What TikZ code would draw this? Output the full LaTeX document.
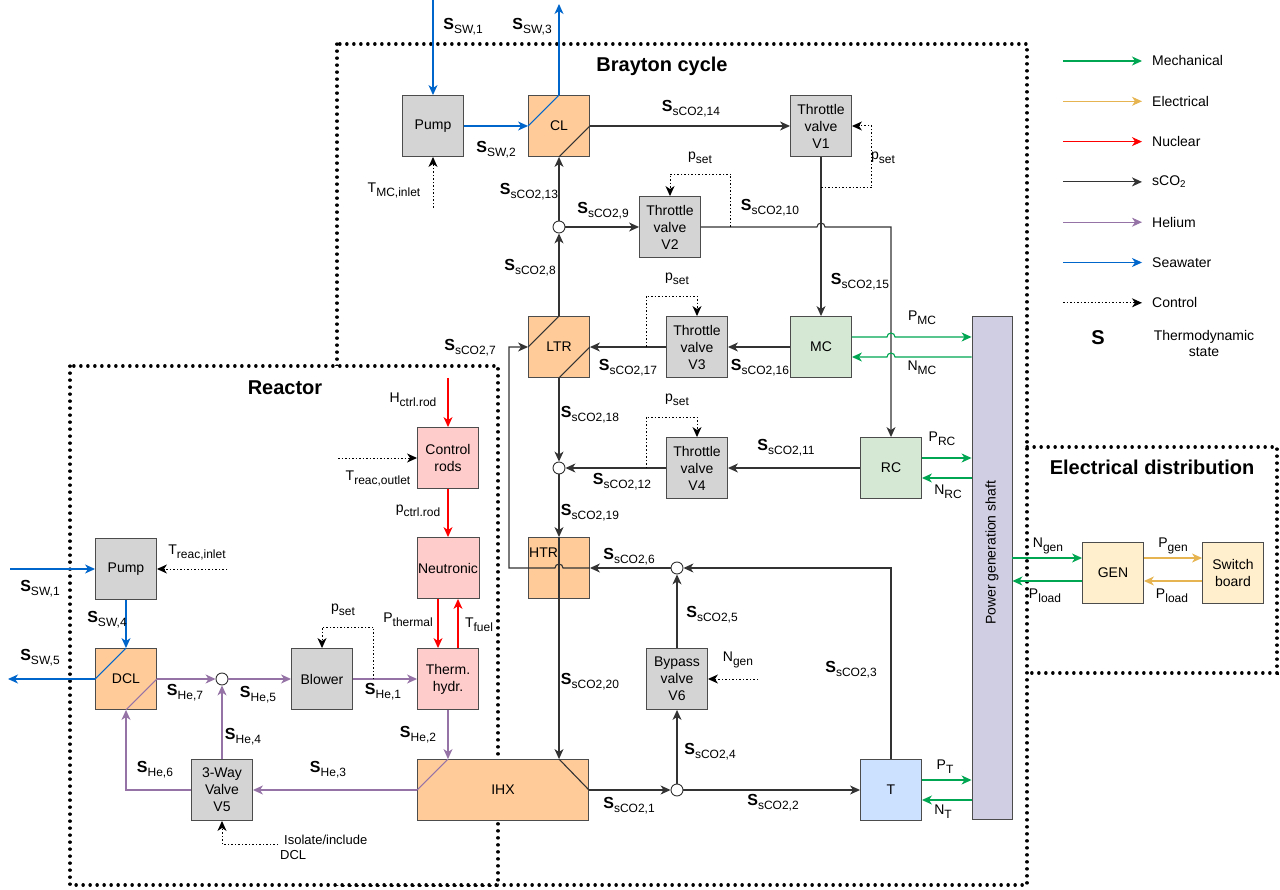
\documentclass[tikz,border=0pt]{standalone}
\usepackage{fontspec}
\setmainfont{Liberation Sans}
\usetikzlibrary{arrows.meta,positioning,calc}
\definecolor{swblue}{HTML}{0066CC}
\definecolor{hepurple}{HTML}{9673A6}
\definecolor{nucred}{HTML}{FF0000}
\definecolor{mechgreen}{HTML}{00A651}
\definecolor{elecgold}{HTML}{E6B450}
\definecolor{co2gray}{HTML}{333333}
\definecolor{boxgray}{HTML}{D4D4D4}
\definecolor{boxorange}{HTML}{FFCC99}
\definecolor{boxpink}{HTML}{FFCCCC}
\definecolor{boxgreen}{HTML}{D5E8D4}
\definecolor{boxblue}{HTML}{CCE0FF}
\definecolor{boxpurple}{HTML}{D0CEE2}
\definecolor{boxyellow}{HTML}{FFEFCC}
\newcommand{\boxfont}{\fontsize{14}{17}\selectfont}
\newcommand{\lblfont}{\fontsize{14}{16}\selectfont}
\newcommand{\ttlfont}{\fontsize{20}{24}\selectfont\bfseries}
\newcommand{\thst}[1]{{\fontsize{16}{16}\selectfont\bfseries S}\raisebox{-4pt}{\fontsize{12}{12}\selectfont #1}}
\newcommand{\vsub}[2]{#1\raisebox{-4pt}{\fontsize{12}{12}\selectfont #2}}

\begin{document}
\begin{tikzpicture}[x=1pt,y=-1pt,
  blk/.style={rectangle,draw=black!70,line width=0.9pt,minimum width=61pt,
              minimum height=61pt,inner sep=1pt,align=center,font=\boxfont},
  grayblk/.style={blk,fill=boxgray},
  heatx/.style={blk,fill=boxorange},
  nucblk/.style={blk,fill=boxpink},
  compblk/.style={blk,fill=boxgreen},
  elecblk/.style={blk,fill=boxyellow},
  junc/.style={circle,draw=co2gray,fill=white,line width=0.9pt,
               minimum size=12pt,inner sep=0pt},
  pipe/.style={line width=1.1pt,-{Stealth[length=10pt,width=9pt,inset=3pt]}},
  co2/.style={pipe,draw=co2gray},
  hel/.style={pipe,draw=hepurple},
  sea/.style={pipe,draw=swblue},
  nuc/.style={pipe,draw=nucred},
  mech/.style={pipe,draw=mechgreen},
  elec/.style={pipe,draw=elecgold},
  ctrl/.style={pipe,draw=black,line width=1pt,dash pattern=on 1.5pt off 2pt},
  lbl/.style={font=\lblfont,inner sep=1pt},
  ttl/.style={font=\ttlfont},
  region/.style={draw=black,line width=3.2pt,dash pattern=on 0.3pt off 6.7pt,line cap=round}
]
  \useasboundingbox (0,0) rectangle (1280,890);

  % ---- Subsystem borders ---------------------------------------
  \draw[region] (337,44) rectangle (1027,885);
  \draw[region,fill=white] (70,366) rectangle (498,885);
  \draw[region] (1027,447) -- (1277,447) -- (1277,673) -- (1027,673);

  \node[ttl] (brayton) at (662,66) {Brayton cycle};
  \node[ttl] (reactor) at (285,388) {Reactor};
  \node[ttl] (elecdist) at (1152,467) {Electrical distribution};

  % ---- Brayton cycle units -------------------------------------
  \node[grayblk] (pumpB) at (433,126) {Pump};
  \node[heatx]   (cl)    at (559,126) {CL};
  \node[grayblk] (tv1)   at (821,126) {Throttle\\valve\\V1};
  \node[grayblk] (tv2)   at (670,227) {Throttle\\valve\\V2};
  \node[heatx]   (ltr)   at (559,347) {LTR};
  \node[grayblk] (tv3)   at (697,347) {Throttle\\valve\\V3};
  \node[compblk] (mc)    at (821,347) {MC};
  \node[grayblk] (tv4)   at (697,468) {Throttle\\valve\\V4};
  \node[compblk] (rc)    at (891,468) {RC};
  \node[heatx]   (htr)   at (559,568) {};
  \node[font=\boxfont,anchor=west,inner sep=0pt] (htrtxt) at (529,553) {HTR};
  \node[grayblk] (bypass) at (677,679) {Bypass\\valve\\V6};
  \node[heatx,minimum width=171pt] (ihx) at (503,790) {IHX};
  \node[blk,fill=boxblue] (turb) at (891,790) {T};
  \node[blk,fill=boxpurple,minimum width=40pt,minimum height=503pt] (shaft) at (992,568) {};
  \node[font=\boxfont,rotate=90] (shafttxt) at (992,553) {Power generation shaft};

  \node[junc] (j1) at (559,227) {};
  \node[junc] (j2) at (559,468) {};
  \node[junc] (j3) at (677,568) {};
  \node[junc] (j4) at (677,790) {};

  % ---- Reactor units -------------------------------------------
  \node[grayblk] (pumpR)  at (126,569) {Pump};
  \node[heatx]   (dcl)    at (126,679) {DCL};
  \node[nucblk]  (rods)   at (448,458) {Control\\rods};
  \node[nucblk]  (neut)   at (448,568) {Neutronic};
  \node[nucblk]  (thyd)   at (448,679) {Therm.\\hydr.};
  \node[grayblk] (blower) at (322,679) {Blower};
  \node[grayblk] (v5)     at (222,790) {3-Way\\Valve\\V5};
  \node[junc]    (j5)     at (222,679) {};

  % ---- Electrical units ----------------------------------------
  \node[elecblk] (gen) at (1113,573) {GEN};
  \node[elecblk] (swb) at (1233,573) {Switch\\board};

  % ---- Free ends -----------------------------------------------
  \coordinate (swinB)  at (433,0);
  \coordinate (swoutB) at (559,4);
  \coordinate (swinR)  at (10,569);
  \coordinate (swoutR) at (8,679);
  \coordinate (hrod)   at (448,378);
  \coordinate (tmcin)  at (433,208);
  \coordinate (troout) at (338,458);
  \coordinate (trein)  at (227,569);
  \coordinate (ngenin) at (758,679);
  \coordinate (isoin)  at (278,844);

  % ---- Seawater ------------------------------------------------
  \draw[sea] (swinB) -- (pumpB.north);
  \draw[sea] (pumpB.east) -- (cl.west);
  \draw[sea,-] (cl.west) -- (cl.north);
  \draw[sea] (cl.north) -- (swoutB);
  \draw[sea] (swinR) -- (pumpR.west);
  \draw[sea] (pumpR.south) -- (dcl.north);
  \draw[sea,-] (dcl.north) -- (dcl.west);
  \draw[sea] (dcl.west) -- (swoutR);

  % ---- sCO2 loop -----------------------------------------------
  \draw[co2,-] (cl.south) -- (cl.east);
  \draw[co2] (cl.east) -- (tv1.west);
  \draw[co2] (tv1.south) -- (mc.north);
  \draw[co2] (j1) -- (cl.south);
  \draw[co2] (ltr.north) -- (j1);
  \draw[co2] (j1) -- (tv2.west);
  \draw[co2] (tv2.east) -- ($(tv2.east -| tv1.south)+(-4,0)$)
    arc[start angle=180,end angle=0,radius=4pt] -- (tv2.east -| rc.north) -- (rc.north);
  \draw[co2] (mc.west) -- (tv3.east);
  \draw[co2] (tv3.west) -- (ltr.east);
  \draw[co2,-] (ltr.west) -- (ltr.north);
  \draw[co2,-] (ltr.south) -- (ltr.east);
  \draw[co2] (ltr.south) -- (j2);
  \draw[co2] (rc.west) -- (tv4.east);
  \draw[co2] (tv4.west) -- (j2);
  \draw[co2] (j2) -- (htr.north);
  \draw[co2] (htr.north) -- (htr.north |- ihx.north);
  \draw[co2,-] (htr.north |- ihx.north) -- (ihx.east);
  \draw[co2] (ihx.east) -- (j4);
  \draw[co2] (j4) -- (turb.west);
  \draw[co2] (j4) -- (bypass.south);
  \draw[co2] (bypass.north) -- (j3);
  \draw[co2] (turb.north) |- (j3.east);
  \draw[co2] (j3) -- (htr.east);
  \draw[co2] (htr.east) -- ($(htr.center)+(4,0)$)
    arc[start angle=0,end angle=180,radius=4pt] -- ($(htr.center)+(-50,0)$) |- (ltr.west);

  % ---- Helium loop ---------------------------------------------
  \draw[hel,-] (dcl.east) -- (dcl.south);
  \draw[hel] (dcl.east) -- (j5);
  \draw[hel] (j5) -- (blower.west);
  \draw[hel] (blower.east) -- (thyd.west);
  \draw[hel] (thyd.south) -- (thyd.south |- ihx.north);
  \draw[hel,-] (thyd.south |- ihx.north) -- (ihx.west);
  \draw[hel] (ihx.west) -- (v5.east);
  \draw[hel] (v5.west) -| (dcl.south);
  \draw[hel] (v5.north) -- (j5);

  % ---- Nuclear -------------------------------------------------
  \draw[nuc] (hrod) -- (rods.north);
  \draw[nuc] (rods.south) -- (neut.north);
  \draw[nuc] ($(neut.south)+(-10,0)$) -- ($(thyd.north)+(-10,0)$);
  \draw[nuc] ($(thyd.north)+(10,0)$) -- ($(neut.south)+(10,0)$);

  % ---- Mechanical ----------------------------------------------
  \draw[mech] ($(mc.east)+(0,-10)$) -- ($(mc.east -| rc.north)+(-4,-10)$)
    arc[start angle=180,end angle=0,radius=4pt] -- ($(mc.east -| shaft.west)+(0,-10)$);
  \draw[mech] ($(mc.east -| shaft.west)+(0,10)$) -- ($(mc.east -| rc.north)+(4,10)$)
    arc[start angle=0,end angle=180,radius=4pt] -- ($(mc.east)+(0,10)$);
  \draw[mech] ($(rc.east)+(0,-10)$) -- ($(rc.east -| shaft.west)+(0,-10)$);
  \draw[mech] ($(rc.east -| shaft.west)+(0,10)$) -- ($(rc.east)+(0,10)$);
  \draw[mech] ($(turb.east)+(0,-10)$) -- ($(turb.east -| shaft.west)+(0,-10)$);
  \draw[mech] ($(turb.east -| shaft.west)+(0,10)$) -- ($(turb.east)+(0,10)$);
  \draw[mech] ($(gen.west -| shaft.east)+(0,-15)$) -- ($(gen.west)+(0,-15)$);
  \draw[mech] ($(gen.west)+(0,8)$) -- ($(gen.west -| shaft.east)+(0,8)$);

  % ---- Electrical ----------------------------------------------
  \draw[elec] ($(gen.east)+(0,-15)$) -- ($(swb.west)+(0,-15)$);
  \draw[elec] ($(swb.west)+(0,8)$) -- ($(gen.east)+(0,8)$);

  % ---- Control -------------------------------------------------
  \draw[ctrl] (tmcin) -- (pumpB.south);
  \draw[ctrl] ($(tv1.south)+(0,31)$) -| ($(tv1.east)+(20,0)$) -- (tv1.east);
  \draw[ctrl] ($(tv2.east)+(30,0)$) |- ($(tv2.north)+(0,-22)$) -- (tv2.north);
  \draw[ctrl] ($(tv3.west)+(-20,0)$) |- ($(tv3.north)+(0,-20)$) -- (tv3.north);
  \draw[ctrl] ($(tv4.west)+(-20,0)$) |- ($(tv4.north)+(0,-20)$) -- (tv4.north);
  \draw[ctrl] (ngenin) -- (bypass.east);
  \draw[ctrl] (troout) -- (rods.west);
  \draw[ctrl] (trein) -- (pumpR.east);
  \draw[ctrl] ($(blower.east)+(21,0)$) |- ($(blower.north)+(0,-21)$) -- (blower.north);
  \draw[ctrl] (isoin) -| (v5.south);

  % ---- State labels (Brayton) ----------------------------------
  \node[lbl] (lsw1) at (463,27)  {\thst{SW,1}};
  \node[lbl] (lsw3) at (532,27)  {\thst{SW,3}};
  \node[lbl] (lsw2) at (496,150) {\thst{SW,2}};
  \node[lbl] (lc14) at (691,109) {\thst{sCO2,14}};
  \node[lbl] (ltmc) at (394,190) {\vsub{T}{MC,inlet}};
  \node[lbl] (lc13) at (529,192) {\thst{sCO2,13}};
  \node[lbl] (lps2) at (700,158) {\vsub{p}{set}};
  \node[lbl] (lps1) at (883,158) {\vsub{p}{set}};
  \node[lbl] (lc9)  at (603,211) {\thst{sCO2,9}};
  \node[lbl] (lc10) at (770,208) {\thst{sCO2,10}};
  \node[lbl] (lc8)  at (530,268) {\thst{sCO2,8}};
  \node[lbl] (lps3) at (677,279) {\vsub{p}{set}};
  \node[lbl] (lc15) at (860,282) {\thst{sCO2,15}};
  \node[lbl] (lpmc) at (922,318) {\vsub{P}{MC}};
  \node[lbl] (lnmc) at (922,368) {\vsub{N}{MC}};
  \node[lbl] (lc7)  at (470,348) {\thst{sCO2,7}};
  \node[lbl] (lc17) at (628,368) {\thst{sCO2,17}};
  \node[lbl] (lc16) at (760,368) {\thst{sCO2,16}};
  \node[lbl] (lc18) at (590,415) {\thst{sCO2,18}};
  \node[lbl] (lps4) at (677,400) {\vsub{p}{set}};
  \node[lbl] (lc11) at (786,448) {\thst{sCO2,11}};
  \node[lbl] (lc12) at (622,482) {\thst{sCO2,12}};
  \node[lbl] (lprc) at (942,439) {\vsub{P}{RC}};
  \node[lbl] (lnrc) at (948,492) {\vsub{N}{RC}};
  \node[lbl] (lc19) at (590,513) {\thst{sCO2,19}};
  \node[lbl] (lc6)  at (629,557) {\thst{sCO2,6}};
  \node[lbl] (lc5)  at (712,615) {\thst{sCO2,5}};
  \node[lbl] (lngv) at (738,660) {\vsub{N}{gen}};
  \node[lbl] (lc20) at (590,682) {\thst{sCO2,20}};
  \node[lbl] (lc3)  at (851,670) {\thst{sCO2,3}};
  \node[lbl] (lc4)  at (710,752) {\thst{sCO2,4}};
  \node[lbl] (lpt)  at (945,767) {\vsub{P}{T}};
  \node[lbl] (lnt)  at (943,812) {\vsub{N}{T}};
  \node[lbl] (lc1)  at (629,806) {\thst{sCO2,1}};
  \node[lbl] (lc2)  at (773,803) {\thst{sCO2,2}};

  % ---- State labels (Reactor) ----------------------------------
  \node[lbl] (lhrod) at (413,400) {\vsub{H}{ctrl.rod}};
  \node[lbl] (ltro)  at (378,478) {\vsub{T}{reac,outlet}};
  \node[lbl] (lprod) at (418,511) {\vsub{p}{ctrl.rod}};
  \node[lbl] (lswr1) at (40,589)  {\thst{SW,1}};
  \node[lbl] (ltri)  at (197,552) {\vsub{T}{reac,inlet}};
  \node[lbl] (lsw4)  at (107,620) {\thst{SW,4}};
  \node[lbl] (lsw5)  at (40,658)  {\thst{SW,5}};
  \node[lbl] (lpsb)  at (343,610) {\vsub{p}{set}};
  \node[lbl] (lpth)  at (408,620) {\vsub{P}{thermal}};
  \node[lbl] (ltfu)  at (479,625) {\vsub{T}{fuel}};
  \node[lbl] (lhe7)  at (185,693) {\thst{He,7}};
  \node[lbl] (lhe5)  at (258,695) {\thst{He,5}};
  \node[lbl] (lhe1)  at (383,692) {\thst{He,1}};
  \node[lbl] (lhe2)  at (418,735) {\thst{He,2}};
  \node[lbl] (lhe4)  at (243,737) {\thst{He,4}};
  \node[lbl] (lhe3)  at (328,770) {\thst{He,3}};
  \node[lbl] (lhe6)  at (155,770) {\thst{He,6}};
  \node[lbl,anchor=north west,align=left,font=\fontsize{13}{15}\selectfont] (liso) at (279,834) {\hspace*{4pt}Isolate/include\\DCL};

  % ---- Electrical labels ---------------------------------------
  \node[lbl] (lngen)  at (1048,546) {\vsub{N}{gen}};
  \node[lbl] (lplsh)  at (1045,596) {\vsub{P}{load}};
  \node[lbl] (lpgen)  at (1173,546) {\vsub{P}{gen}};
  \node[lbl] (lplgen) at (1172,596) {\vsub{P}{load}};

  % ---- Legend --------------------------------------------------
  \foreach \sty/\txt [count=\i] in {mech/Mechanical,elec/Electrical,nuc/Nuclear,
      co2/sCO\textsubscript{2},hel/Helium,sea/Seawater,ctrl/Control} {
    \coordinate (lg\i a) at (1063,{61+40.3*(\i-1)});
    \coordinate (lg\i b) at (1142,{61+40.3*(\i-1)});
    \draw[\sty] (lg\i a) -- (lg\i b);
    \node[lbl,anchor=west] (lgt\i) at (1151,{61+40.3*(\i-1)}) {\txt};
  }
  \node[font=\fontsize{20}{20}\selectfont\bfseries] (lgs) at (1098,338) {S};
  \node[lbl,align=center] (lgst) at (1204,343) {Thermodynamic\\state};

\end{tikzpicture}
\end{document}
